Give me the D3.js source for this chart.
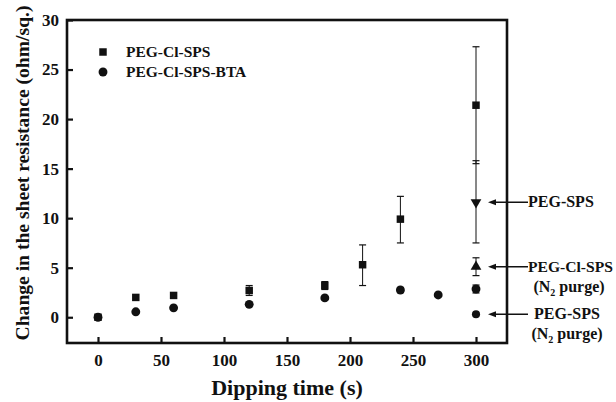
<!DOCTYPE html>
<html><head><meta charset="utf-8">
<script src="https://cdn.jsdelivr.net/npm/d3@7"></script>
<style>
body{margin:0;background:#fff;}
</style></head>
<body><svg id="c" width="616" height="402"></svg>
<script>
// Data
const timesA = [0, 30, 60, 120, 180, 210, 240, 300];
const pegClSps = [0, 2.0, 2.2, 2.7, 3.2, 5.3, 9.9, 21.4];
const pegClSpsLo = [0, 2.0, 2.2, 2.2, 2.8, 3.2, 7.5, 15.5];
const pegClSpsHi = [0, 2.0, 2.2, 3.2, 3.6, 7.3, 12.2, 27.3];

const timesB = [0, 30, 60, 120, 180, 240, 270, 300];
const pegClSpsBta = [0, 0.55, 0.95, 1.3, 1.95, 2.75, 2.25, 2.85];
const pegClSpsBtaLo = [0, 0.55, 0.95, 1.3, 1.95, 2.5, 2.25, 2.45];
const pegClSpsBtaHi = [0, 0.55, 0.95, 1.3, 1.95, 3.0, 2.25, 3.25];

const extraNames = ["PEG-SPS", "PEG-Cl-SPS", "PEG-SPS"];
const extraSub = ["", "(N\u2082 purge)", "(N\u2082 purge)"];
const extraTime = [300, 300, 300];
const extraVal = [11.6, 5.1, 0.3];
const extraLo = [7.5, 4.2, 0.3];
const extraHi = [15.8, 6.0, 0.3];
const extraShape = ["triDown", "triUp", "dot"];

const xTicks = [0, 50, 100, 150, 200, 250, 300];
const yTicks = [0, 5, 10, 15, 20, 25, 30];
const legendNames = ["PEG-Cl-SPS", "PEG-Cl-SPS-BTA"];

const FONT = "'Liberation Serif', 'Times New Roman', Times, serif";
const svg = d3.select("#c");
const L = 67, R = 507, T = 20, B = 343;
const x = d3.scaleLinear().domain([-24.6, 324.6]).range([L, R]);
const y = d3.scaleLinear().domain([-2.6, 30]).range([B, T]);
const ink = "#111";

function txt(sel, size) {
  return sel.style("font-family", FONT).style("font-weight", "bold")
    .style("font-size", size + "px").attr("fill", ink);
}

// axes with inward ticks
const gx = svg.append("g").attr("transform", `translate(0,${B})`)
  .call(d3.axisBottom(x).tickValues(xTicks).tickSizeInner(-6).tickSizeOuter(0).tickPadding(11));
const gy = svg.append("g").attr("transform", `translate(${L},0)`)
  .call(d3.axisLeft(y).tickValues(yTicks).tickSizeInner(-6).tickSizeOuter(0).tickPadding(8));
[gx, gy].forEach(g => {
  g.attr("font-family", null);
  g.select(".domain").remove();
  g.selectAll(".tick line").attr("stroke", ink).attr("stroke-width", 2.2);
  txt(g.selectAll(".tick text"), 17);
});

// frame
svg.append("rect").attr("x", L).attr("y", T).attr("width", R - L).attr("height", B - T)
  .attr("fill", "none").attr("stroke", ink).attr("stroke-width", 2.6);

// titles
txt(svg.append("text").attr("x", (L + R) / 2).attr("y", 395).attr("text-anchor", "middle"), 22)
  .text("Dipping time (s)");
txt(svg.append("text").attr("transform", `translate(29,173) rotate(-90)`)
  .attr("text-anchor", "middle"), 19.6)
  .text("Change in the sheet resistance (ohm/sq.)");

function errBar(t, lo, hi) {
  if (hi - lo < 0.05) return;
  svg.append("line").attr("x1", x(t)).attr("x2", x(t)).attr("y1", y(lo)).attr("y2", y(hi))
    .attr("stroke", ink).attr("stroke-width", 1);
  [lo, hi].forEach(v => svg.append("line").attr("x1", x(t) - 3.5).attr("x2", x(t) + 3.5)
    .attr("y1", y(v)).attr("y2", y(v)).attr("stroke", ink).attr("stroke-width", 1.2));
}
const sym = {
  square: d3.symbol().type(d3.symbolSquare).size(56),
  circle: d3.symbol().type(d3.symbolCircle).size(62),
  triUp: d3.symbol().type(d3.symbolTriangle).size(50),
  triDown: d3.symbol().type(d3.symbolTriangle).size(50),
  dot: d3.symbol().type(d3.symbolCircle).size(52)
};
function mark(shape, px, py) {
  svg.append("path").attr("d", sym[shape]())
    .attr("transform", `translate(${px},${py})` + (shape === "triDown" ? " rotate(180)" : ""))
    .attr("fill", ink);
}

timesA.forEach((t, i) => errBar(t, pegClSpsLo[i], pegClSpsHi[i]));
timesB.forEach((t, i) => errBar(t, pegClSpsBtaLo[i], pegClSpsBtaHi[i]));
extraTime.forEach((t, i) => errBar(t, extraLo[i], extraHi[i]));
timesA.forEach((t, i) => mark("square", x(t), y(pegClSps[i])));
timesB.forEach((t, i) => mark("circle", x(t), y(pegClSpsBta[i])));
extraTime.forEach((t, i) => mark(extraShape[i], x(t), y(extraVal[i])));

// annotations with arrows
extraVal.forEach((v, i) => {
  const py = y(v);
  svg.append("line").attr("x1", 528).attr("x2", 494).attr("y1", py).attr("y2", py)
    .attr("stroke", ink).attr("stroke-width", 1.4);
  svg.append("path").attr("d", `M488,${py} L496,${py - 3} L496,${py + 3} Z`).attr("fill", ink);
  const t = txt(svg.append("text").attr("y", py + 5), i === 1 ? 15.6 : 16).text(extraNames[i]);
  if (i === 2) t.attr("x", 567).attr("text-anchor", "middle");
  else t.attr("x", 528).attr("text-anchor", "start");
  if (extraSub[i]) {
    const s = txt(svg.append("text").attr("x", i === 2 ? 567 : 569).attr("y", py + 25)
      .attr("text-anchor", "middle"), 16);
    s.append("tspan").text("(N");
    s.append("tspan").attr("dy", 4).style("font-size", "10px").text("2");
    s.append("tspan").attr("dy", -4).text(" purge)");
  }
});

// legend
const legShapes = ["square", "circle"];
legendNames.forEach((n, i) => {
  const ly = 52 + i * 20;
  mark(legShapes[i], 103, ly);
  txt(svg.append("text").attr("x", 126).attr("y", ly + 5), 15.5).text(n);
});
</script></body></html>
